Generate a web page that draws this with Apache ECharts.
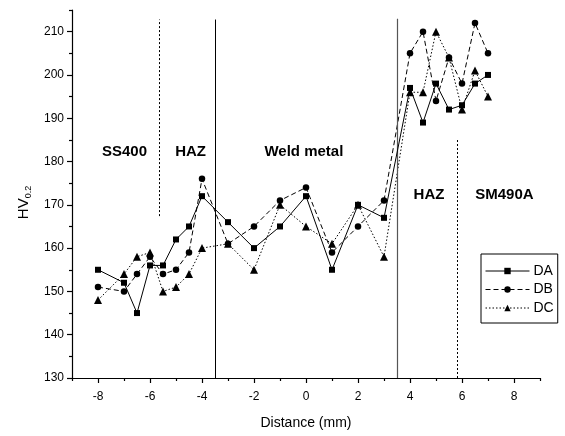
<!DOCTYPE html>
<html>
<head>
<meta charset="utf-8">
<script src="https://cdn.jsdelivr.net/npm/echarts@6/dist/echarts.min.js"></script>
<style>
  html, body { margin: 0; padding: 0; background: #fff; }
  #main { width: 565px; height: 436px; }
</style>
</head>
<body>
<div id="main"></div>
<script>
// distances (mm) shared by all three rows
var distance = [-8, -7, -6.5, -6, -5.5, -5, -4.5, -4, -3, -2, -1, 0, 1, 2, 3, 4, 4.5, 5, 5.5, 6, 6.5, 7];
var hvDA = [155, 152, 145, 156, 156, 162, 165, 172, 166, 160, 165, 172, 155, 170, 167, 197, 189, 198, 192, 193, 198, 200];
var hvDB = [151, 150, 154, 158, 154, 155, 159, 176, 161, 165, 171, 174, 159, 165, 171, 205, 210, 194, 204, 198, 212, 205];
var hvDC = [148, 154, 158, 159, 150, 151, 154, 160, 161, 155, 170, 165, 161, 170, 158, 196, 196, 210, 204, 192, 201, 195];

// tick labels
var xMajor = [-8, -6, -4, -2, 0, 2, 4, 6, 8];
var xMinor = [-9, -7, -5, -3, -1, 1, 3, 5, 7, 9];
var yMajor = [130, 140, 150, 160, 170, 180, 190, 200, 210];
var yMinor = [135, 145, 155, 165, 175, 185, 195, 205, 215];

// zone names and boundaries
var zoneNames = ['SS400', 'HAZ', 'Weld metal', 'HAZ', 'SM490A'];
var boundaries = [-5.65, -3.5, 3.5, 5.8];

function pairs(xs, ys) {
  return xs.map(function (x, i) { return [x, ys[i]]; });
}

var myChart = echarts.init(document.getElementById('main'), null, { renderer: 'canvas' });
var font = 'Liberation Sans, Arial, sans-serif';

var gridBox = { left: 72, right: 25, top: 10, bottom: 58 };

var option = {
  backgroundColor: '#fff',
  animation: false,
  textStyle: { fontFamily: font, color: '#000' },
  grid: [
    Object.assign({}, gridBox),
    Object.assign({}, gridBox)
  ],
  legend: {
    data: ['DA', 'DB', 'DC'],
    orient: 'vertical',
    left: 481,
    top: 254,
    padding: [10, 4, 8, 4],
    itemGap: 4.5,
    itemWidth: 44,
    itemHeight: 8,
    borderColor: '#000',
    borderWidth: 1,
    lineStyle: { width: 1 },
    textStyle: { fontFamily: font, fontSize: 14, color: '#000', padding: [0, 0, 0, -1] }
  },
  xAxis: [
    {
      type: 'value', gridIndex: 0, min: -9, max: 9, interval: 1,
      name: 'Distance (mm)', nameLocation: 'middle', nameGap: 38,
      nameTextStyle: { fontFamily: font, fontSize: 14, color: '#000' },
      axisLine: { onZero: false, lineStyle: { color: '#000', width: 1.2 } },
      axisTick: { length: 5, customValues: xMajor, lineStyle: { color: '#000', width: 1.2 } },
      axisLabel: { customValues: xMajor, margin: 13, fontSize: 12, color: '#000', fontFamily: font },
      splitLine: { show: false }
    },
    {
      type: 'value', gridIndex: 1, min: -9, max: 9, interval: 1,
      axisLine: { show: false, onZero: false },
      axisTick: { length: 3, customValues: xMinor, lineStyle: { color: '#000', width: 1.2 } },
      axisLabel: { show: false },
      splitLine: { show: false }
    }
  ],
  yAxis: [
    {
      type: 'value', gridIndex: 0, min: 130, max: 215, interval: 5,
      name: '{a|HV}{b|0.2}', nameLocation: 'middle', nameGap: 38,
      nameTextStyle: {
        padding: [0, 17, 0, 0],
        rich: {
          a: { fontFamily: font, fontSize: 15, color: '#000', lineHeight: 18 },
          b: { fontFamily: font, fontSize: 9, color: '#000', lineHeight: 18, verticalAlign: 'bottom', padding: [7, 0, 0, 0] }
        }
      },
      axisLine: { onZero: false, lineStyle: { color: '#000', width: 1.2 } },
      axisTick: { length: 5, customValues: yMajor, lineStyle: { color: '#000', width: 1.2 } },
      axisLabel: { customValues: yMajor, margin: 8, fontSize: 12, color: '#000', fontFamily: font },
      splitLine: { show: false }
    },
    {
      type: 'value', gridIndex: 1, min: 130, max: 215, interval: 5,
      axisLine: { show: false, onZero: false },
      axisTick: { length: 3, customValues: yMinor, lineStyle: { color: '#000', width: 1.2 } },
      axisLabel: { show: false },
      splitLine: { show: false }
    }
  ],
  series: [
    {
      name: 'DA', type: 'line', data: pairs(distance, hvDA),
      symbol: 'rect', symbolSize: 6,
      lineStyle: { color: '#000', width: 1 },
      itemStyle: { color: '#000' },
      z: 5
    },
    {
      name: 'DB', type: 'line', data: pairs(distance, hvDB),
      symbol: 'circle', symbolSize: 6.5,
      lineStyle: { color: '#000', width: 1, type: [5, 3] },
      itemStyle: { color: '#000' },
      z: 4
    },
    {
      name: 'DC', type: 'line', data: pairs(distance, hvDC),
      symbol: 'triangle', symbolSize: 8,
      lineStyle: { color: '#000', width: 1, type: [1.5, 2] },
      itemStyle: { color: '#000' },
      z: 3
    },
    {
      // zone boundaries + zone names
      name: 'zones', type: 'line', data: [], silent: true,
      markLine: {
        silent: true, symbol: 'none', animation: false,
        label: { show: false },
        data: [
          [{ coord: [boundaries[0], 167.4], lineStyle: { type: [2, 2], color: '#000', width: 1 } }, { coord: [boundaries[0], 212.8] }],
          [{ coord: [boundaries[1], 130], lineStyle: { type: 'solid', color: '#000', width: 1 } }, { coord: [boundaries[1], 212.8] }],
          [{ coord: [boundaries[2], 130], lineStyle: { type: 'solid', color: '#555', width: 1.2 } }, { coord: [boundaries[2], 213] }],
          [{ coord: [boundaries[3], 130], lineStyle: { type: [2, 2], color: '#000', width: 1 } }, { coord: [boundaries[3], 185.2] }]
        ]
      },
      markPoint: {
        silent: true, symbol: 'circle', symbolSize: 0, animation: false,
        label: {
          show: true, position: 'inside', formatter: '{b}',
          fontFamily: font, fontSize: 15, fontWeight: 'bold', color: '#000'
        },
        data: [
          { name: zoneNames[0], coord: [-6.98, 182.2] },
          { name: zoneNames[1], coord: [-4.44, 182.2] },
          { name: zoneNames[2], coord: [-0.08, 182.2] },
          { name: zoneNames[3], coord: [4.73, 172.4] },
          { name: zoneNames[4], coord: [7.63, 172.4] }
        ]
      }
    }
  ]
};

myChart.setOption(option, true);
</script>
</body>
</html>
